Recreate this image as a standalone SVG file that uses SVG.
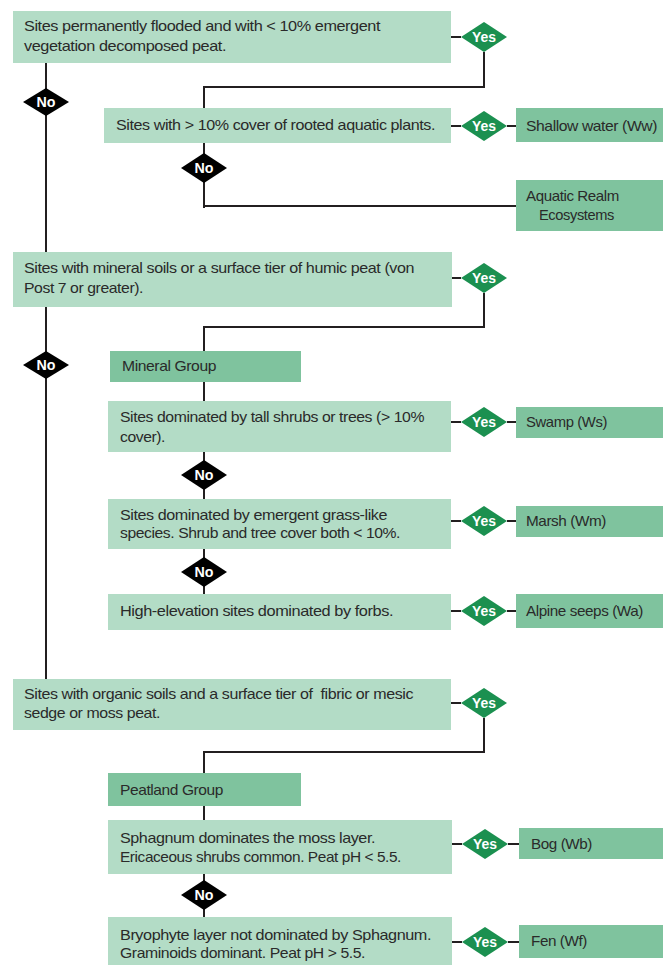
<svg xmlns="http://www.w3.org/2000/svg" width="663" height="965" viewBox="0 0 663 965">
<style>
.q{fill:#b3dcc6}
.r{fill:#7fc39e}
.t{font-family:"Liberation Sans",Arial,sans-serif;font-size:15px;fill:#2a2a2a;letter-spacing:-0.4px}
.y{fill:#1b9050}
.n{fill:#000}
.dt{font-family:"Liberation Sans",Arial,sans-serif;font-size:14px;font-weight:bold;fill:#fff;text-anchor:middle}
.c{fill:none;stroke:#231f20;stroke-width:2}
</style>
<rect width="663" height="965" fill="#fff"/>
<g id="connectors">
<path class="c" d="M46 63V679"/>
<path class="c" d="M451 37H461M484 52V87H204V108"/>
<path class="c" d="M451 126H461M507 126H516"/>
<path class="c" d="M204 143V208M204 206H516"/>
<path class="c" d="M452 278H461M484 293V327H204V351"/>
<path class="c" d="M204 382V401"/>
<path class="c" d="M451 422H461M507 422H516"/>
<path class="c" d="M204 452V499"/>
<path class="c" d="M451 521H461M507 521H516"/>
<path class="c" d="M204 549V594"/>
<path class="c" d="M451 611H461M507 611H516"/>
<path class="c" d="M451 703H461M484 718V752H204V773"/>
<path class="c" d="M204 806V820"/>
<path class="c" d="M452 844H462M508 844H519"/>
<path class="c" d="M204 874V917"/>
<path class="c" d="M452 942H462M508 942H519"/>
</g>
<g id="q1"><rect class="q" x="13" y="11" width="438" height="52"/>
<text class="t" x="24" y="31" textLength="356" lengthAdjust="spacingAndGlyphs">Sites permanently flooded and with &lt; 10% emergent</text>
<text class="t" x="24" y="51" textLength="202" lengthAdjust="spacingAndGlyphs">vegetation decomposed peat.</text></g>
<g id="yes1"><polygon class="y" points="461,37 484,22 507,37 484,52"/><text class="dt" x="484" y="42" textLength="24" lengthAdjust="spacingAndGlyphs">Yes</text></g>
<g id="no1"><polygon class="n" points="23,102 46,88 69,102 46,116"/><text class="dt" x="46" y="107" textLength="19" lengthAdjust="spacingAndGlyphs">No</text></g>
<g id="q2"><rect class="q" x="104" y="108" width="347" height="35"/>
<text class="t" x="116" y="130" textLength="319" lengthAdjust="spacingAndGlyphs">Sites with &gt; 10% cover of rooted aquatic plants.</text></g>
<g id="yes2"><polygon class="y" points="461,126 484,111 507,126 484,141"/><text class="dt" x="484" y="131" textLength="24" lengthAdjust="spacingAndGlyphs">Yes</text></g>
<g id="ww"><rect class="r" x="516" y="108" width="147" height="34"/>
<text class="t" x="526" y="131" textLength="131" lengthAdjust="spacingAndGlyphs">Shallow water (Ww)</text></g>
<g id="no2"><polygon class="n" points="181,168 204,153 227,168 204,183"/><text class="dt" x="204" y="173" textLength="19" lengthAdjust="spacingAndGlyphs">No</text></g>
<g id="aquatic"><rect class="r" x="516" y="180" width="147" height="51"/>
<text class="t" x="526" y="201" textLength="93" lengthAdjust="spacingAndGlyphs">Aquatic Realm</text>
<text class="t" x="539" y="220" textLength="75" lengthAdjust="spacingAndGlyphs">Ecosystems</text></g>
<g id="q3"><rect class="q" x="13" y="252" width="439" height="55"/>
<text class="t" x="24" y="273" textLength="390" lengthAdjust="spacingAndGlyphs">Sites with mineral soils or a surface tier of humic peat (von</text>
<text class="t" x="24" y="293" textLength="119" lengthAdjust="spacingAndGlyphs">Post 7 or greater).</text></g>
<g id="yes3"><polygon class="y" points="461,278 484,263 507,278 484,293"/><text class="dt" x="484" y="283" textLength="24" lengthAdjust="spacingAndGlyphs">Yes</text></g>
<g id="no3"><polygon class="n" points="23,365 46,351 69,365 46,379"/><text class="dt" x="46" y="370" textLength="19" lengthAdjust="spacingAndGlyphs">No</text></g>
<g id="mineral"><rect class="r" x="110" y="351" width="191" height="31"/>
<text class="t" x="122" y="371" textLength="94" lengthAdjust="spacingAndGlyphs">Mineral Group</text></g>
<g id="q4"><rect class="q" x="108" y="401" width="343" height="51"/>
<text class="t" x="120" y="422" textLength="304" lengthAdjust="spacingAndGlyphs">Sites dominated by tall shrubs or trees (&gt; 10%</text>
<text class="t" x="120" y="442" textLength="45" lengthAdjust="spacingAndGlyphs">cover).</text></g>
<g id="yes4"><polygon class="y" points="461,422 484,407 507,422 484,437"/><text class="dt" x="484" y="427" textLength="24" lengthAdjust="spacingAndGlyphs">Yes</text></g>
<g id="ws"><rect class="r" x="516" y="407" width="147" height="31"/>
<text class="t" x="526" y="427" textLength="81" lengthAdjust="spacingAndGlyphs">Swamp (Ws)</text></g>
<g id="no4"><polygon class="n" points="181,475 204,460 227,475 204,490"/><text class="dt" x="204" y="480" textLength="19" lengthAdjust="spacingAndGlyphs">No</text></g>
<g id="q5"><rect class="q" x="108" y="499" width="343" height="50"/>
<text class="t" x="120" y="520" textLength="267" lengthAdjust="spacingAndGlyphs">Sites dominated by emergent grass-like</text>
<text class="t" x="120" y="538" textLength="280" lengthAdjust="spacingAndGlyphs">species. Shrub and tree cover both &lt; 10%.</text></g>
<g id="yes5"><polygon class="y" points="461,521 484,506 507,521 484,536"/><text class="dt" x="484" y="526" textLength="24" lengthAdjust="spacingAndGlyphs">Yes</text></g>
<g id="wm"><rect class="r" x="516" y="506" width="147" height="31"/>
<text class="t" x="526" y="526" textLength="80" lengthAdjust="spacingAndGlyphs">Marsh (Wm)</text></g>
<g id="no5"><polygon class="n" points="181,572 204,557 227,572 204,587"/><text class="dt" x="204" y="577" textLength="19" lengthAdjust="spacingAndGlyphs">No</text></g>
<g id="q6"><rect class="q" x="108" y="594" width="343" height="36"/>
<text class="t" x="120" y="616" textLength="273" lengthAdjust="spacingAndGlyphs">High-elevation sites dominated by forbs.</text></g>
<g id="yes6"><polygon class="y" points="461,611 484,596 507,611 484,626"/><text class="dt" x="484" y="616" textLength="24" lengthAdjust="spacingAndGlyphs">Yes</text></g>
<g id="wa"><rect class="r" x="516" y="594" width="147" height="34"/>
<text class="t" x="526" y="616" textLength="117" lengthAdjust="spacingAndGlyphs">Alpine seeps (Wa)</text></g>
<g id="q7"><rect class="q" x="13" y="679" width="438" height="51"/>
<text class="t" x="24" y="699" textLength="389" lengthAdjust="spacingAndGlyphs" xml:space="preserve">Sites with organic soils and a surface tier of  fibric or mesic</text>
<text class="t" x="24" y="718" textLength="136" lengthAdjust="spacingAndGlyphs">sedge or moss peat.</text></g>
<g id="yes7"><polygon class="y" points="461,703 484,688 507,703 484,718"/><text class="dt" x="484" y="708" textLength="24" lengthAdjust="spacingAndGlyphs">Yes</text></g>
<g id="peatland"><rect class="r" x="108" y="773" width="193" height="33"/>
<text class="t" x="120" y="795" textLength="103" lengthAdjust="spacingAndGlyphs">Peatland Group</text></g>
<g id="q8"><rect class="q" x="108" y="820" width="344" height="54"/>
<text class="t" x="120" y="843" textLength="255" lengthAdjust="spacingAndGlyphs">Sphagnum dominates the moss layer.</text>
<text class="t" x="120" y="862" textLength="281" lengthAdjust="spacingAndGlyphs">Ericaceous shrubs common. Peat pH &lt; 5.5.</text></g>
<g id="yes8"><polygon class="y" points="462,844 485,829 508,844 485,859"/><text class="dt" x="485" y="849" textLength="24" lengthAdjust="spacingAndGlyphs">Yes</text></g>
<g id="wb"><rect class="r" x="519" y="828" width="144" height="31"/>
<text class="t" x="531" y="849" textLength="61" lengthAdjust="spacingAndGlyphs">Bog (Wb)</text></g>
<g id="no8"><polygon class="n" points="181,895 204,880 227,895 204,910"/><text class="dt" x="204" y="900" textLength="19" lengthAdjust="spacingAndGlyphs">No</text></g>
<g id="q9"><rect class="q" x="108" y="917" width="344" height="48"/>
<text class="t" x="120" y="940" textLength="311" lengthAdjust="spacingAndGlyphs">Bryophyte layer not dominated by Sphagnum.</text>
<text class="t" x="120" y="958" textLength="245" lengthAdjust="spacingAndGlyphs">Graminoids dominant. Peat pH &gt; 5.5.</text></g>
<g id="yes9"><polygon class="y" points="462,942 485,927 508,942 485,957"/><text class="dt" x="485" y="947" textLength="24" lengthAdjust="spacingAndGlyphs">Yes</text></g>
<g id="wf"><rect class="r" x="519" y="925" width="144" height="33"/>
<text class="t" x="531" y="946" textLength="56" lengthAdjust="spacingAndGlyphs">Fen (Wf)</text></g>
</svg>
